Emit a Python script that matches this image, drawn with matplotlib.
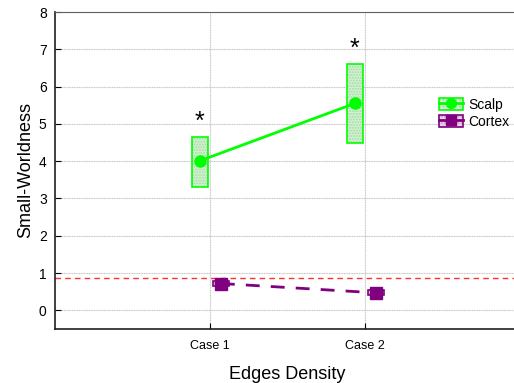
import numpy as np
import matplotlib.pyplot as plt
from matplotlib.patches import Rectangle, Patch
from matplotlib.lines import Line2D
from matplotlib.legend_handler import HandlerTuple

plt.rcParams['font.family'] = ['Liberation Sans', 'DejaVu Sans']

cases = ['Case 1', 'Case 2']
scalp_mean = [4.01, 5.55]
scalp_low = [3.30, 4.50]
scalp_high = [4.66, 6.60]
cortex_mean = [0.72, 0.47]
cortex_low = [0.64, 0.40]
cortex_high = [0.80, 0.55]
ref_level = 0.87
star_y = [5.05, 7.0]

green = '#00ff00'
green_fill = '#d0f4d0'
green_hatch = '#a8d8a8'
purple = '#800080'
purple_fill = '#e8d8e8'
purple_hatch = '#c8a0c8'

fig = plt.figure(figsize=(5.14, 3.83), dpi=100)
ax = fig.add_axes([55/514, 1 - 329/383, 465/514, (329 - 12)/383])

pos = np.arange(1, len(cases) + 1)
xs = pos - 0.065
xc = pos + 0.07
bw = 0.1

def boxes(x, lo, hi, edge, fill, hcol):
    for xi, l, h in zip(x, lo, hi):
        ax.add_patch(Rectangle((xi - bw/2, l), bw, h - l, facecolor=fill,
                               edgecolor=hcol, hatch='......', linewidth=0, zorder=3))
        ax.add_patch(Rectangle((xi - bw/2, l), bw, h - l, facecolor='none',
                               edgecolor=edge, linewidth=1.2, zorder=4))

boxes(xs, scalp_low, scalp_high, green, green_fill, green_hatch)
boxes(xc, cortex_low, cortex_high, purple, purple_fill, purple_hatch)

ax.plot(xs, scalp_mean, color=green, lw=2, marker='o', ms=8, zorder=5)
ax.plot(xc, cortex_mean, color=purple, lw=2, ls=(0, (5, 4)), marker='s', ms=8, zorder=5)
ax.axhline(ref_level, color='#ff3030', lw=1, ls=(0, (4, 3)), zorder=2, clip_on=False)

for x, y in zip(xs, star_y):
    ax.text(x, y, '*', fontsize=18, ha='center', va='center', zorder=6)

ax.set_xlim(0, 3)
ax.set_ylim(-0.5, 8)
ax.set_xticks(pos)
ax.set_xticklabels(cases, fontsize=9)
ax.set_yticks(range(0, 9))
ax.tick_params(axis='y', labelsize=10, direction='in', length=4, pad=6)
ax.tick_params(axis='x', direction='in', length=4, pad=8)
ax.grid(True, color='#c8c8c8', lw=0.8, ls=(0, (1, 0.5)))
ax.set_axisbelow(True)
for s in ['left', 'bottom']:
    ax.spines[s].set_color('#202020')
    ax.spines[s].set_linewidth(1.2)
ax.spines['top'].set_color('#606060')
ax.spines['right'].set_visible(False)

ax.set_xlabel('Edges Density', fontsize=13, labelpad=10)
ax.set_ylabel('Small-Worldness', fontsize=13, labelpad=3)

def handle(edge, fill, hcol, marker):
    return (Patch(facecolor=fill, edgecolor=hcol, hatch='.....', lw=0),
            Patch(facecolor='none', edgecolor=edge, lw=1.2),
            Line2D([], [], color=edge, lw=2, marker=marker, ms=7))

ax.legend([handle(green, green_fill, green_hatch, 'o'),
           handle(purple, purple_fill, purple_hatch, 's')], ['Scalp', 'Cortex'],
          handler_map={tuple: HandlerTuple(ndivide=1, pad=0)},
          loc='upper left', bbox_to_anchor=(0.805, 0.76), frameon=False,
          fontsize=10, handlelength=1.7, handleheight=1.0, handletextpad=0.4,
          labelspacing=0.2, borderpad=0.2)

fig.savefig('out.png', dpi=100)
